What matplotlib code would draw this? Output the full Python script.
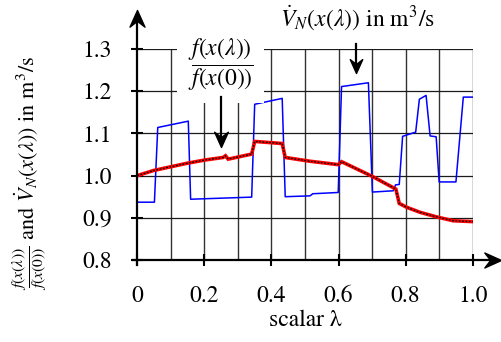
import numpy as np
from matplotlib import pyplot as plt
from matplotlib.path import Path

plt.rcParams['font.family'] = 'STIXGeneral'
plt.rcParams['mathtext.fontset'] = 'stix'

# volume flow along the line search
vn_lam = [0, 0.051, 0.061, 0.152, 0.159, 0.341, 0.350, 0.432, 0.441, 0.515,
          0.523, 0.599, 0.609, 0.689, 0.701, 0.763, 0.770, 0.781, 0.791, 0.830,
          0.841, 0.861, 0.873, 0.891, 0.900, 0.950, 0.972, 1.0]
vn = [0.937, 0.937, 1.114, 1.129, 0.944, 0.949, 1.169, 1.183, 0.950, 0.952,
      0.957, 0.960, 1.211, 1.220, 0.961, 0.964, 0.978, 0.979, 1.093, 1.103,
      1.181, 1.190, 1.094, 1.092, 0.985, 0.985, 1.186, 1.186]

# normalised objective
f_lam = [0, 0.048, 0.147, 0.202, 0.256, 0.263, 0.271, 0.341, 0.350, 0.432,
         0.441, 0.515, 0.599, 0.609, 0.701, 0.771, 0.781, 0.803, 0.843, 0.893,
         0.942, 1.0]
f_ratio = [1.0, 1.012, 1.029, 1.037, 1.043, 1.047, 1.039, 1.051, 1.081, 1.076,
           1.043, 1.034, 1.026, 1.033, 0.998, 0.968, 0.934, 0.925, 0.913, 0.902,
           0.893, 0.891]

x_ticks = [0, 0.2, 0.4, 0.6, 0.8, 1.0]
x_labels = ['0', '0.2', '0.4', '0.6', '0.8', '1.0']
y_ticks = [0.8, 0.9, 1.0, 1.1, 1.2, 1.3]
y_labels = ['0.8', '0.9', '1.0', '1.1', '1.2', '1.3']
grid_x = [0.1, 0.2, 0.3, 0.4, 0.5, 0.6, 0.7, 0.8, 0.9, 1.0]
grid_y = [0.9, 1.0, 1.1, 1.2, 1.3]


def stealth(dx, dy):
    # concave arrow head, tip at the origin, pointing along (dx, dy)
    pts = np.array([[0, 0], [-1, 0.45], [-0.65, 0], [-1, -0.45], [0, 0]])
    c, s = dx, dy
    rot = np.array([[c, -s], [s, c]])
    v = pts @ rot.T
    codes = [Path.MOVETO, Path.LINETO, Path.LINETO, Path.LINETO, Path.CLOSEPOLY]
    return Path(v, codes)


fig = plt.figure(figsize=(5.02, 3.42), dpi=100)
ax = fig.add_axes([137.3 / 502, 82 / 342, 335.4 / 502, 211 / 342])
ax.set_xlim(0, 1)
ax.set_ylim(0.8, 1.3)
for sp in ax.spines.values():
    sp.set_visible(False)

# grid
ax.vlines(grid_x, 0.8, 1.3, color='0.2', lw=1.0, zorder=1)
ax.hlines(grid_y, 0, 1.0, color='0.1', lw=0.9, zorder=1)

# curves
ax.plot(vn_lam, vn, color='#0000ff', lw=1.1, zorder=3)
ax.plot(f_lam, f_ratio, color='#ff0000', lw=2.6, zorder=4,
        solid_joinstyle='miter')
ax.plot(f_lam, f_ratio, color='black', lw=1.0, ls=(0, (1.2, 1.2)), zorder=5)

# axes with arrows
ax.plot([-0.013, 1.075], [0.8, 0.8], color='black', lw=1.6, clip_on=False,
        zorder=6)
ax.plot([0, 0], [0.789, 1.38], color='black', lw=1.6, clip_on=False, zorder=6)
ax.plot([1.084], [0.8], marker=stealth(1, 0), ms=24, color='black',
        clip_on=False, zorder=7)
ax.plot([0], [1.393], marker=stealth(0, 1), ms=24, color='black',
        clip_on=False, zorder=7)

ax.set_xticks(x_ticks)
ax.set_xticklabels(x_labels)
ax.set_yticks(y_ticks)
ax.set_yticklabels(y_labels)
ax.tick_params(axis='both', direction='inout', length=9, width=1.5,
               labelsize=17, pad=14)

ax.set_xlabel('scalar λ', fontsize=17, labelpad=2)

# annotations
ax.text(0.2487, 1.262, r'$\dfrac{f(x(\lambda))}{f(x(0))}$', fontsize=17,
        ha='center', va='center', zorder=8,
        bbox=dict(boxstyle='square,pad=0.45', fc='white', ec='none'))
ax.plot([0.2487, 0.2487], [1.1865, 1.08], color='black', lw=1.6, zorder=8)
ax.plot([0.2487], [1.067], marker=stealth(0, -1), ms=22, color='black',
        zorder=9)

ax.text(0.655, 1.375, r'$\dot{V}_N(x(\lambda))$ in m$^3$/s', fontsize=17,
        ha='center', va='center', clip_on=False)
ax.plot([0.651, 0.651], [1.312, 1.255], color='black', lw=1.6, clip_on=False,
        zorder=8)
ax.plot([0.651], [1.243], marker=stealth(0, -1), ms=20, color='black',
        clip_on=False, zorder=9)

fig.text(30 / 502, (342 - 173) / 342,
         r'$\frac{f(x(\lambda))}{f(x(0))}$ and $\dot{V}_N(x(\lambda))$ in m$^3$/s',
         rotation=90, ha='center', va='center', fontsize=16)

fig.savefig('out.png', dpi=100)
